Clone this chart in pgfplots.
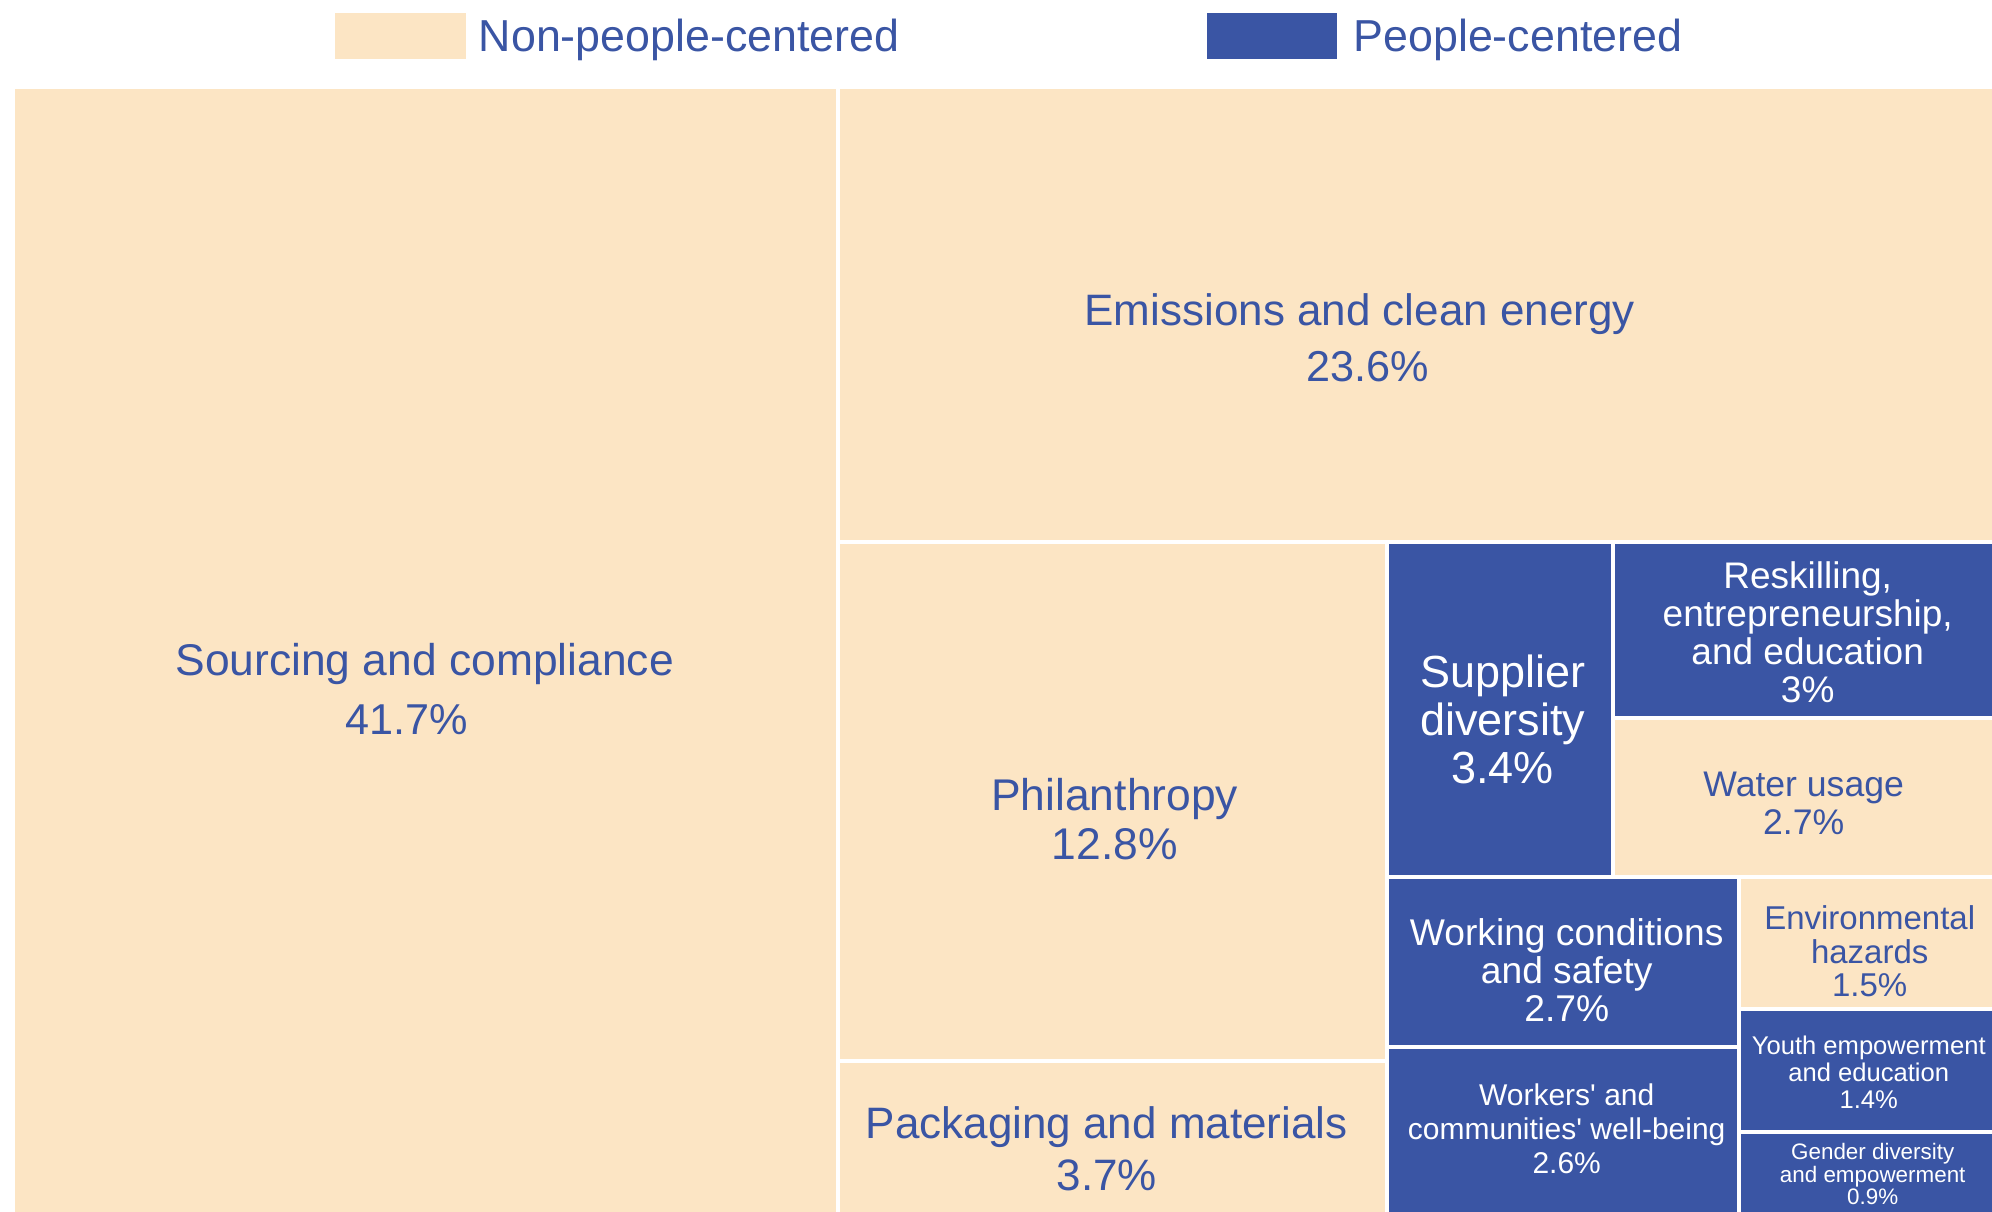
\documentclass[border=0pt]{standalone}
\usepackage{pgfplots}
\pgfplotsset{compat=1.18}
\usepackage{fontspec}
\setmainfont{Liberation Sans}[Ligatures=TeXOff]
\definecolor{beige}{RGB}{252,229,196}
\definecolor{navy}{RGB}{58,85,164}
% treemap rectangle: x0, x1, y0, y1, fill colour (axis units: 1 unit = 1 px of the 1992x1211 reference)
\newcommand{\rect}[5]{\addplot[fill=#5, draw=white, line width=1pt] coordinates {(#1,#3) (#2,#3) (#2,#4) (#1,#4)} -- cycle;}
\newcommand{\lbox}[5]{\addplot[fill=#5, draw=none] coordinates {(#1,#3) (#2,#3) (#2,#4) (#1,#4)} -- cycle;}
\begin{document}
\begin{tikzpicture}
\begin{axis}[scale only axis, width=498pt, height=302.75pt,
  xmin=-12.7, xmax=1979.3, ymin=0, ymax=1211, hide axis, clip=false]
% Non-people-centered (right and bottom edges run past the page edge)
\rect{0}{825}{-10}{1124}{beige}        % Sourcing and compliance 41.7
\rect{825}{1990}{669}{1124}{beige}     % Emissions and clean energy 23.6
\rect{825}{1374}{150}{669}{beige}      % Philanthropy 12.8
\rect{825}{1374}{-10}{150}{beige}      % Packaging and materials 3.7
\rect{1600}{1990}{334.5}{493}{beige}   % Water usage 2.7
\rect{1726}{1990}{202.5}{334.5}{beige} % Environmental hazards 1.5
% People-centered
\rect{1374}{1600}{334.5}{669}{navy}    % Supplier diversity 3.4
\rect{1600}{1990}{493}{669}{navy}      % Reskilling 3.0
\rect{1374}{1726}{164}{334.5}{navy}    % Working conditions 2.7
\rect{1374}{1726}{-10}{164}{navy}      % Workers' well-being 2.6
\rect{1726}{1990}{79.3}{202.5}{navy}   % Youth 1.4
\rect{1726}{1990}{-10}{79.3}{navy}     % Gender 0.9
% legend
\lbox{322.3}{453.3}{1152}{1198}{beige}
\lbox{1194.3}{1324.3}{1152}{1198}{navy}
\node[anchor=base west, inner sep=0pt, text=navy, font=\fontsize{11.2}{13}\selectfont] at (axis cs:465.3,1159) {Non-people-centered};
\node[anchor=base west, inner sep=0pt, text=navy, font=\fontsize{11.2}{13}\selectfont] at (axis cs:1340,1159) {People-centered};
% labels
\node[text=navy, font=\fontsize{11.1}{14}\selectfont] at (axis cs:412,547) {Sourcing and compliance};
\node[text=navy, font=\fontsize{10.8}{14}\selectfont] at (axis cs:394,491) {41.7\%};
\node[text=navy, font=\fontsize{11}{13}\selectfont] at (axis cs:1347,897) {Emissions and clean energy};
\node[text=navy, font=\fontsize{10.8}{13}\selectfont] at (axis cs:1355,844) {23.6\%};
\node[text=navy, align=center, font=\fontsize{11.1}{12.4}\selectfont] at (axis cs:1102,392) {Philanthropy\\12.8\%};
\node[text=navy, align=center, font=\fontsize{11}{13}\selectfont] at (axis cs:1094,62) {Packaging and materials\\3.7\%};
\node[text=white, align=center, font=\fontsize{11.25}{12}\selectfont] at (axis cs:1490,492) {Supplier\\diversity\\3.4\%};
\node[text=white, align=center, font=\fontsize{9.25}{9.5}\selectfont] at (axis cs:1795,579) {Reskilling,\\entrepreneurship,\\and education\\3\%};
\node[text=navy, align=center, font=\fontsize{8.9}{9.5}\selectfont] at (axis cs:1791,408) {Water usage\\2.7\%};
\node[text=white, align=center, font=\fontsize{9.3}{9.5}\selectfont] at (axis cs:1554,240.5) {Working conditions\\and safety\\2.7\%};
\node[text=white, align=center, font=\fontsize{7.5}{8.5}\selectfont] at (axis cs:1554,82) {Workers' and\\communities' well-being\\2.6\%};
\node[text=navy, align=center, font=\fontsize{8.25}{8.4}\selectfont] at (axis cs:1857,259.5) {Environmental\\hazards\\1.5\%};
\node[text=white, align=center, font=\fontsize{6.4}{6.7}\selectfont] at (axis cs:1856,139) {Youth empowerment\\and education\\1.4\%};
\node[text=white, align=center, font=\fontsize{5.6}{5.6}\selectfont] at (axis cs:1860,37) {Gender diversity\\and empowerment\\0.9\%};
\end{axis}
\pgfresetboundingbox
\path (current axis.south west) rectangle (current axis.north east);
\end{tikzpicture}
\end{document}
